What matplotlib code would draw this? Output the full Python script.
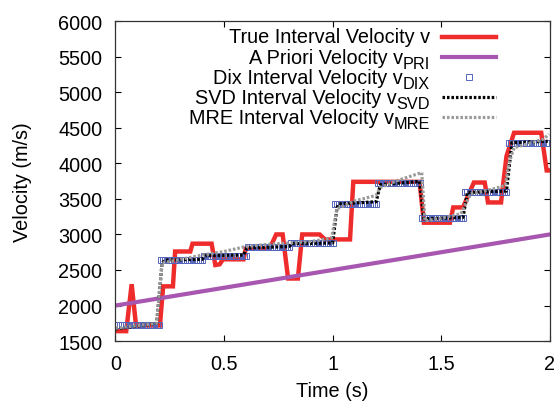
import numpy as np
import matplotlib
matplotlib.use("Agg")
import matplotlib.pyplot as plt

plt.rcParams['font.family'] = ['Liberation Sans', 'DejaVu Sans']

# true interval velocity
true_t = [0.0, 0.05, 0.075, 0.095, 0.205, 0.22, 0.265, 0.275, 0.345, 0.355, 0.443,
          0.46, 0.48, 0.495, 0.59, 0.60, 0.71, 0.74, 0.77, 0.795, 0.84, 0.86, 0.94,
          0.965, 1.08, 1.095, 1.40, 1.42, 1.54, 1.555, 1.60, 1.65, 1.70, 1.715,
          1.775, 1.80, 1.835, 1.96, 1.985, 1.99]
true_v = [1640, 1640, 2300, 1720, 1720, 2270, 2270, 2760, 2760, 2870, 2870,
          2570, 2580, 2650, 2650, 2800, 2800, 3000, 3000, 2380, 2380, 3000, 3000,
          2930, 2930, 3740, 3740, 3165, 3165, 3380, 3380, 3730, 3730, 3450,
          3450, 4100, 4430, 4430, 3900, 3900]

# a priori velocity
pri_t = [0.0, 2.0]
pri_v = [2000, 3000]

# Dix interval velocity: one level per 0.2 s layer, sampled every 0.01 s
dix_levels = [1720, 2640, 2700, 2820, 2875, 3430, 3725, 3225, 3600, 4290]
dix_t = np.round(np.arange(1, 200) * 0.01, 2)
dix_v = np.repeat(dix_levels, 20)[:len(dix_t)]

# SVD interval velocity
svd_t = [0.0, 0.1, 0.19, 0.215, 0.23, 0.40, 0.41, 0.59, 0.605, 0.80, 0.81, 1.0,
         1.02, 1.03, 1.20, 1.22, 1.40, 1.42, 1.60, 1.62, 1.80, 1.825, 1.99]
svd_v = [1670, 1710, 1750, 2600, 2640, 2650, 2700, 2710, 2810, 2830, 2870, 2880,
         3380, 3430, 3460, 3700, 3745, 3220, 3240, 3590, 3610, 4290, 4310]

# MRE interval velocity
mre_t = [0.0, 0.19, 0.215, 0.3, 0.4, 0.5, 0.6, 0.7, 0.8, 0.9, 0.995, 1.02, 1.1,
         1.2, 1.22, 1.3, 1.41, 1.425, 1.5, 1.59, 1.635, 1.74, 1.795, 1.81, 1.835,
         1.97, 1.995]
mre_v = [1680, 1750, 2600, 2650, 2710, 2760, 2830, 2860, 2880, 2900, 2950, 3360,
         3470, 3550, 3660, 3760, 3870, 3190, 3230, 3290, 3570, 3640, 3690, 3990,
         4220, 4340, 4410]

# key entries: (text, subscript)
labels = [('True Interval Velocity v', ''),
          ('A Priori Velocity v', 'PRI'),
          ('Dix Interval Velocity v', 'DIX'),
          ('SVD Interval Velocity v', 'SVD'),
          ('MRE Interval Velocity v', 'MRE')]

red = '#ee2c2c'
purple = '#a857b0'
blue = '#5566bb'
gray = '#9a9a9a'
dots = (0, (0.8, 0.6))
fs = 14.3

fig = plt.figure(figsize=(5.6, 4.02), dpi=100)
ax = fig.add_axes([0.206, 0.149, 0.776, 0.796])

ax.plot(true_t, true_v, color=red, lw=3.2, solid_joinstyle='miter')
ax.plot(pri_t, pri_v, color=purple, lw=3)
ax.plot(dix_t, dix_v, ls='none', marker='s', ms=4.4, mfc='none', mec=blue, mew=0.7)
ax.plot(svd_t, svd_v, color='black', lw=2.3, ls=dots)
ax.plot(mre_t, mre_v, color=gray, lw=2.3, ls=dots)

ax.set_xlim(0, 2)
ax.set_ylim(1500, 6000)
ax.set_xticks([0, 0.5, 1, 1.5, 2])
ax.set_xticklabels(['0', '0.5', '1', '1.5', '2'])
ax.set_yticks(range(1500, 6001, 500))
ax.tick_params(direction='in', top=True, right=True, length=4, width=0.8,
               labelsize=fs)
ax.tick_params(axis='y', pad=9.5)
ax.tick_params(axis='x', pad=9.5)
for s in ax.spines.values():
    s.set_linewidth(0.9)
    s.set_color('#333333')

ax.set_xlabel('Time (s)', fontsize=fs, labelpad=5.5)
ax.set_ylabel('Velocity (m/s)', fontsize=fs, labelpad=19)

# gnuplot-style key: right-aligned text, sample to the right
rows = [0.951, 0.887, 0.825, 0.763, 0.700]
xs = [0.751, 0.877]
for i, ((lab, sub), y) in enumerate(zip(labels, rows)):
    base = y - 0.0175
    if sub:
        st = ax.text(0.724, base - 0.016, sub, transform=ax.transAxes, ha='right',
                     va='baseline', fontsize=fs * 0.82)
        ax.annotate(lab, xy=(0, base), xycoords=(st, 'axes fraction'),
                    ha='right', va='baseline', fontsize=fs)
    else:
        ax.text(0.724, base, lab, transform=ax.transAxes, ha='right',
                va='baseline', fontsize=fs)
    if i == 0:
        ax.plot(xs, [y, y], transform=ax.transAxes, color=red, lw=3.2)
    elif i == 1:
        ax.plot(xs, [y, y], transform=ax.transAxes, color=purple, lw=3)
    elif i == 2:
        ax.plot([0.814], [y], transform=ax.transAxes, marker='s', ms=4.4,
                mfc='none', mec=blue, mew=0.7)
    elif i == 3:
        ax.plot(xs, [y, y], transform=ax.transAxes, color='black', lw=2.3, ls=dots)
    else:
        ax.plot(xs, [y, y], transform=ax.transAxes, color=gray, lw=2.3, ls=dots)

fig.savefig('out.png', dpi=100)
